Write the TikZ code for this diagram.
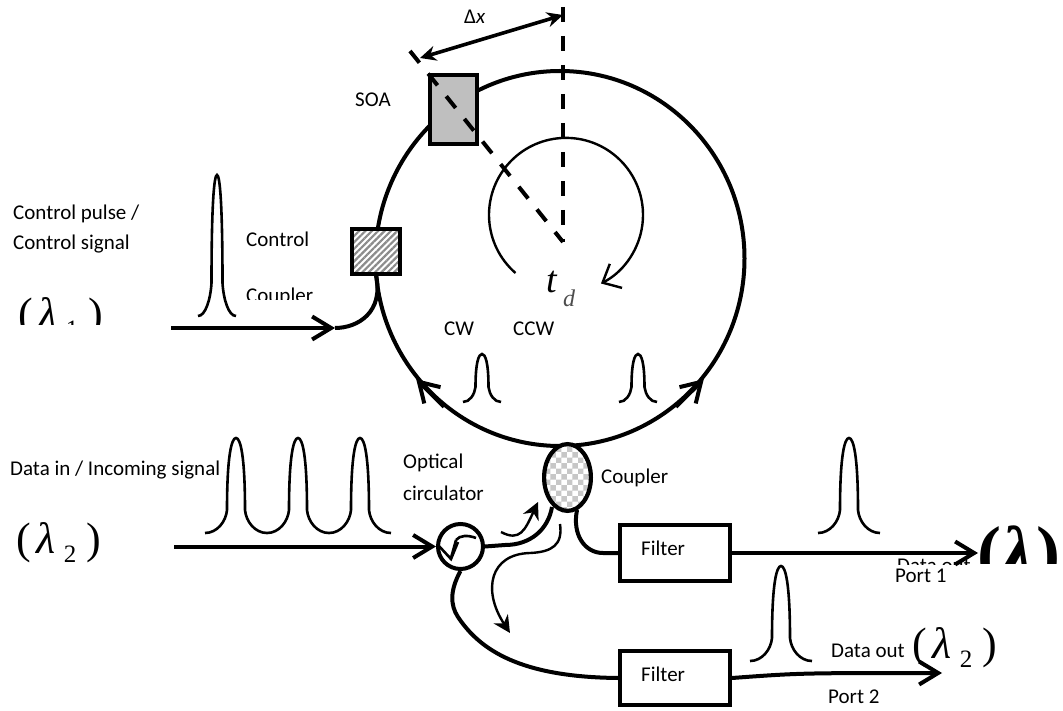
\documentclass[tikz,border=0pt]{standalone}
\usepackage{fontspec}
\setmainfont{Carlito}
\newfontfamily\lamfont{Liberation Serif}
\usetikzlibrary{positioning, arrows.meta, shapes.geometric, patterns, patterns.meta}
\tikzset{>=stealth}
\tikzset{
  lbl/.style={font=\fontsize{21}{24}\selectfont, inner sep=0pt, anchor=west},
  fibre/.style={line width=4pt},
  sigline/.style={fibre, -{Straight Barb[length=19pt,width=23pt]}},
  pulseline/.style={line width=2.6pt},
  partbox/.style={draw, line width=4.4pt, inner sep=0pt, fill=white},
  guide/.style={line width=4pt, dash pattern=on 15pt off 14pt},
  flow/.style={line width=2.4pt, -{Stealth[length=17pt,width=17pt]}},
  whitefirst/.style={preaction={fill=white}}
}
\newcommand{\pulse}[6]{
  \draw[pulseline] ({#1-#6},#4) .. controls ({#1-#6+(#6-#5)*0.55},#4) and ({#1-#5-1},{#4-(#4-#3)*0.5}) .. ({#1-#5},#3)
    .. controls ({#1-#5},{#2+(#3-#2)*0.25}) and ({#1-#5*0.5},#2) .. (#1,#2)
    .. controls ({#1+#5*0.5},#2) and ({#1+#5},{#2+(#3-#2)*0.25}) .. ({#1+#5},#3)
    .. controls ({#1+#5+1},{#4-(#4-#3)*0.5}) and ({#1+#6-(#6-#5)*0.55},#4) .. ({#1+#6},#4);
}
\newcommand{\lamtxt}[1]{{\lamfont\fontsize{44}{44}\selectfont (\hspace{6pt}\textit{λ}\hspace{8pt}\raisebox{-9pt}{\fontsize{25}{25}\selectfont #1}\hspace{10pt})}}
\begin{document}
\begin{tikzpicture}[x=1pt, y=-1pt]
\useasboundingbox (0,0) rectangle (1063,711);
\node[draw, ellipse, fibre, minimum width=369pt, minimum height=375pt, inner sep=0pt] (ring) at (560,258.5) {};
\draw[sigline] (ring.-52) -- (ring.-40.5);
\draw[sigline] (ring.232) -- (ring.220.5);
\node[partbox, fill=black!25, minimum width=46.6pt, minimum height=68.6pt] (soa) at (453.5,109.5) {};
\node[partbox, whitefirst, pattern={Lines[angle=45,distance=4.5pt,line width=2.2pt]}, pattern color=black!45, minimum width=47.6pt, minimum height=45pt] (ctrlcoup) at (376,251.5) {};
\node[draw, ellipse, whitefirst, line width=4.2pt, inner sep=0pt, pattern=checkerboard, pattern color=black!22, minimum width=46.8pt, minimum height=66.8pt] (coupler) at (567.5,477.5) {};
\node[draw, circle, line width=4pt, inner sep=0pt, minimum size=45pt] (circ) at (460.5,546.5) {};
\node[partbox, minimum width=109.6pt, minimum height=55.6pt] (filt1) at (675,553) {};
\node[partbox, minimum width=109.6pt, minimum height=53.6pt] (filt2) at (675,678) {};
\coordinate (axistop) at (563,7);
\coordinate (axisend) at (563,242);
\coordinate (axisleft) at (410,51);
\coordinate (ctrlin) at (171,328);
\coordinate (ctrlbend) at (335,328);
\coordinate (datain) at (174,546.5);
\coordinate (port1) at (978,553);
\coordinate (port2) at (942,673);
\draw[guide] (axistop) -- (axisend);
\draw[guide] (axisleft) -- (axisend);
\draw[line width=3.6pt, {Stealth[length=16pt,width=15pt]}-{Stealth[length=16pt,width=15pt]}] (420,58) -- (563,15);
\draw[line width=2.4pt, -{Straight Barb[length=15pt,width=27pt]}] (515.5,273) arc (131:423:77);
\draw[sigline] (ctrlin) -- (ctrlbend);
\draw[fibre] (ctrlbend) .. controls (358,328) and (384,312) .. (ctrlcoup.south);
\draw[sigline] (datain) -- (circ.west);
\draw[fibre] (circ.east) -- (505,545) .. controls (530,545) and (548,530) .. (552,507);
\draw[fibre] (577,510) .. controls (572,535) and (585,553) .. (603,553) -- (filt1.west);
\draw[fibre] (circ.south) .. controls (450,590) and (450,605) .. (458,617)
  .. controls (480,650) and (520,677) .. (filt2.west);
\draw[sigline] (filt1.east) -- (port1);
\draw[sigline] (filt2.east) .. controls (800,673) .. (port2);
\draw[flow] (501,532) .. controls (520,542) and (525,530) .. (538,502);
\draw[flow] (560,524) .. controls (563,545) and (552,552) .. (530,553) .. controls (490,554) and (482,590) .. (510,633);
\draw[pulseline] (476,538) .. controls (468,535) and (460,535) .. (456,540);
\draw[pulseline] (456,540) -- (451,558);
\draw[pulseline] (438,545) -- (451,559) -- (458,542);
\pulse{217}{175}{283}{316}{5.5}{19}
\foreach \px in {236,298,360} {\pulse{\px}{438}{510}{533}{9}{31}}
\pulse{482}{354}{387}{402}{6.5}{19}
\pulse{638}{354}{387}{402}{6.5}{19}
\pulse{849}{438}{510}{533}{9}{31}
\pulse{781}{566}{638}{661}{9}{31}
\node[lbl] (dx) at (464,17) {Δ\textit{x}};
\node[lbl] (soalbl) at (355,100) {SOA};
\node[lbl] (ctrlpulse) at (13,214) {Control pulse /};
\node[lbl, below=30pt of ctrlpulse.west, anchor=west] (ctrlsig) {Control signal};
\node[lbl] (ctrllbl) at (246,239) {Control};
\begin{scope}
\clip (240,280) rectangle (340,300);
\node[lbl] (ctrlcouplbl) at (246,297) {Coupler};
\end{scope}
\begin{scope}
\clip (10,290) rectangle (110,325);
\node[inner sep=0pt, anchor=west] (lam1) at (18,318) {\lamtxt{1}};
\end{scope}
\node[lbl] (dataLbl) at (10,470) {Data in / Incoming signal};
\node[inner sep=0pt, anchor=west] (lam2) at (16,543) {\lamtxt{2}};
\node[lbl] (optlbl) at (403,463) {Optical};
\node[lbl, below=30pt of optlbl.west, anchor=west] (circlbl) {circulator};
\node[lbl, right=8pt of coupler.east, anchor=west] (couplbl) {Coupler};
\node[lbl] (cwlbl) at (444,329) {CW};
\node[lbl, right=69pt of cwlbl.west, anchor=west] (ccwlbl) {CCW};
\node[inner sep=0pt, anchor=west, font=\lamfont\fontsize{38}{38}\selectfont\itshape] (tdlbl) at (546,282) {t};
\node[inner sep=0pt, anchor=west, text=black!70, font=\lamfont\fontsize{24}{24}\selectfont\itshape] (dlbl) at (563,298) {d};
\node[lbl, right=23pt of filt1.west, anchor=west, yshift=5pt] (filt1lbl) {Filter};
\node[lbl, right=23pt of filt2.west, anchor=west, yshift=4pt] (filt2lbl) {Filter};
\begin{scope}
\clip (890,555) rectangle (975,564);
\node[lbl] (out1lbl) at (897,566) {Data out};
\end{scope}
\node[lbl] (port1lbl) at (895,576) {Port 1};
\begin{scope}
\clip (975,510) rectangle (1063,563);
\node[inner sep=0pt, anchor=west] (lamout) at (977,559) {\lamfont\bfseries\fontsize{72}{72}\selectfont (\textit{λ}\hspace{-16pt}\raisebox{-8pt}{\fontsize{30}{30}\selectfont 2}\hspace{4pt})};
\end{scope}
\node[lbl] (out2lbl) at (831,651) {Data out};
\node[inner sep=0pt, anchor=west] (lam3) at (912,648) {\lamtxt{2}};
\node[lbl] (port2lbl) at (828,697) {Port 2};
\end{tikzpicture}
\end{document}
